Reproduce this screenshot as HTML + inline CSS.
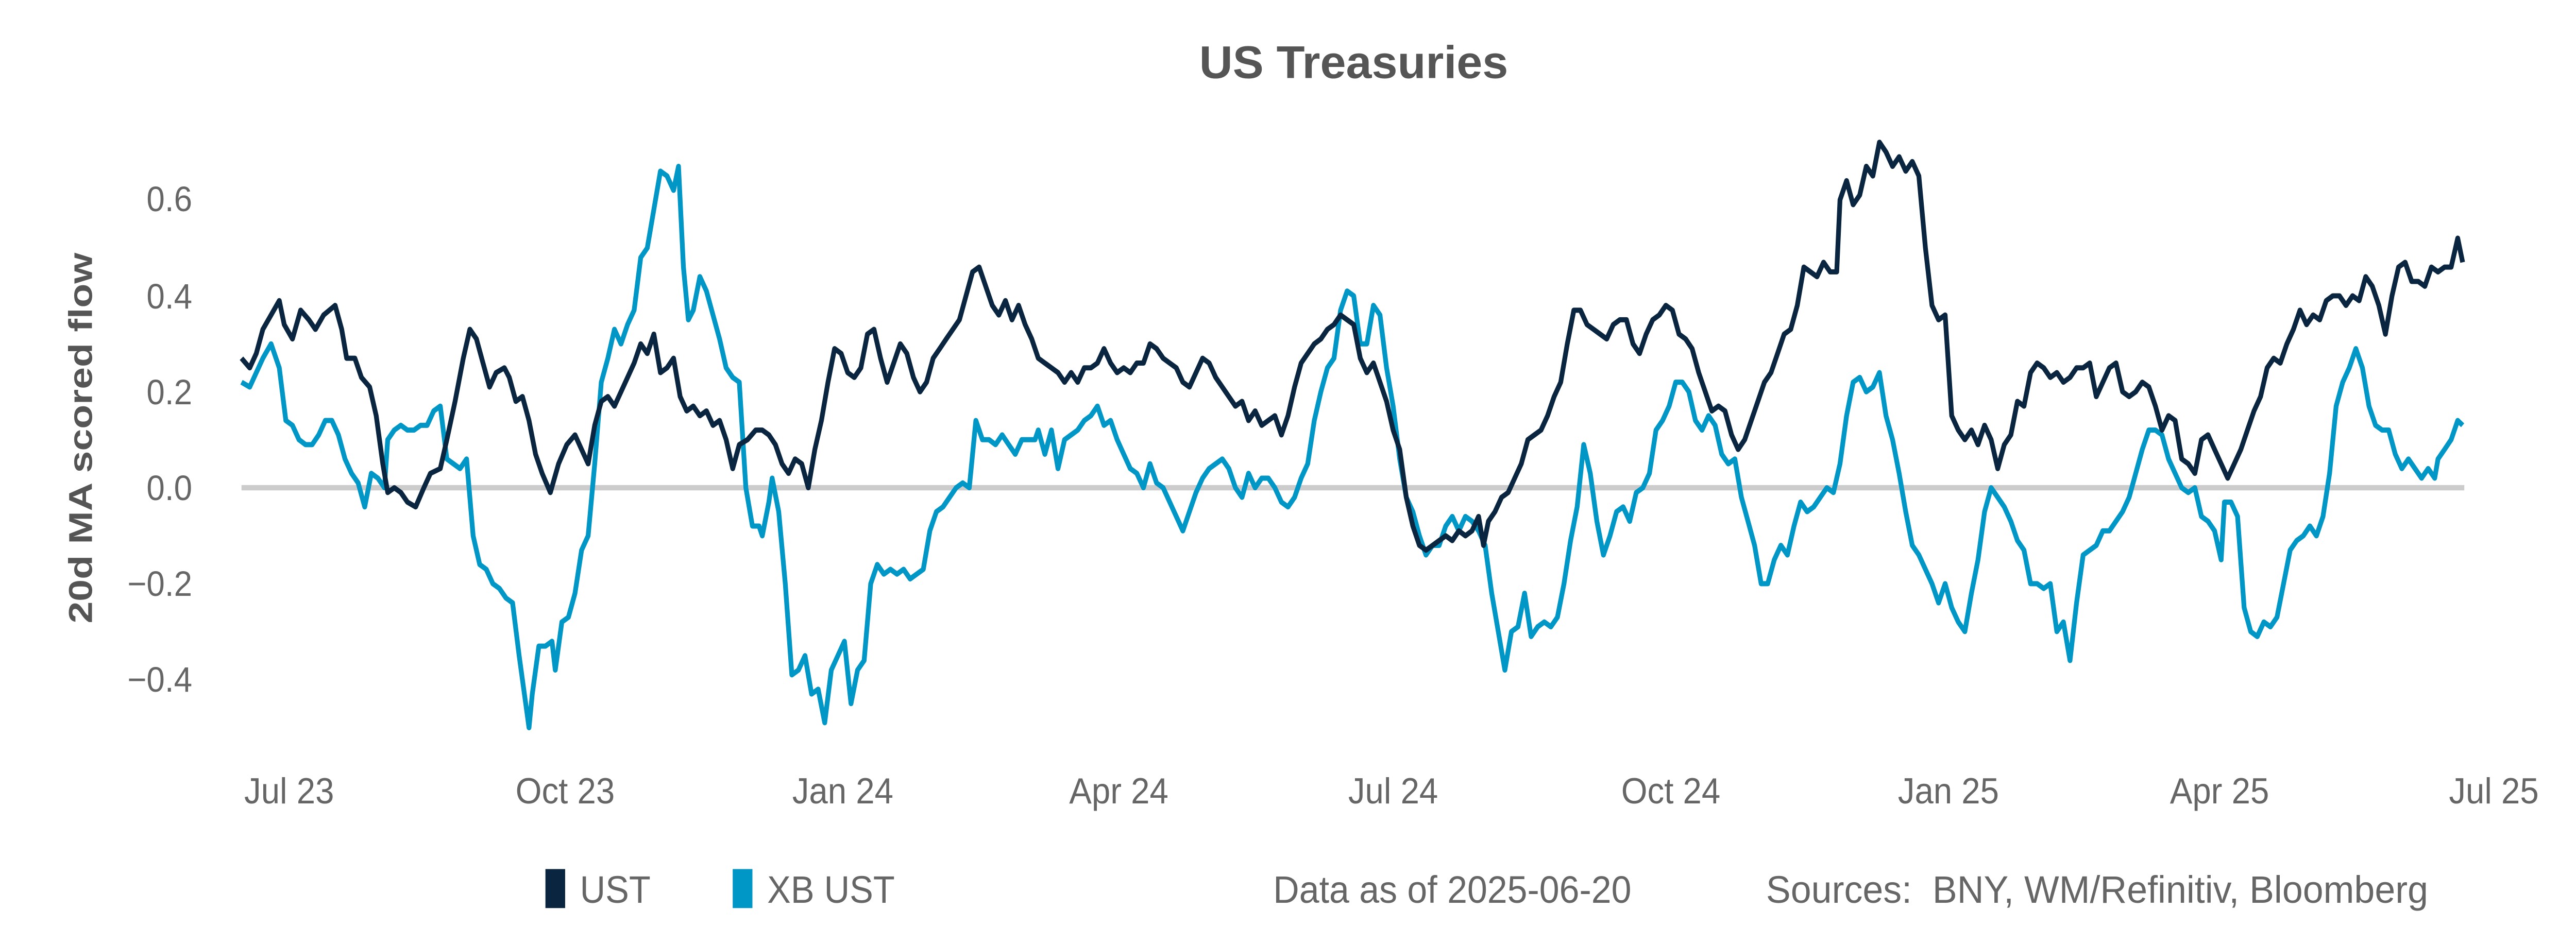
<!DOCTYPE html>
<html><head><meta charset="utf-8"><style>
html,body{margin:0;padding:0;background:#fff;width:100%;height:100%;overflow:hidden;}
svg{display:block;position:fixed;left:0;top:0;width:100vw;height:100vh;}
text{font-family:"Liberation Sans",sans-serif;}
</style></head><body>
<svg id="c" viewBox="0 0 1568 522.67" preserveAspectRatio="none" xmlns="http://www.w3.org/2000/svg">
<rect width="1568" height="522.67" fill="#fff"/>
<text x="730" y="44" font-size="26" font-weight="bold" fill="#555" textLength="188" lengthAdjust="spacingAndGlyphs">US Treasuries</text>
<text transform="translate(56,247) rotate(-90)" text-anchor="middle" font-size="20" font-weight="bold" fill="#555" textLength="209" lengthAdjust="spacingAndGlyphs">20d MA scored flow</text>
<g font-size="20" fill="#666" text-anchor="end">
<text x="117" y="119">0.6</text>
<text x="117" y="174">0.4</text>
<text x="117" y="228">0.2</text>
<text x="117" y="282">0.0</text>
<text x="117" y="336">−0.2</text>
<text x="117" y="390">−0.4</text>
</g>
<g font-size="20.5" fill="#666" text-anchor="middle">
<text x="176" y="453">Jul 23</text>
<text x="344" y="453">Oct 23</text>
<text x="513" y="453">Jan 24</text>
<text x="681" y="453">Apr 24</text>
<text x="848" y="453">Jul 24</text>
<text x="1017" y="453">Oct 24</text>
<text x="1186" y="453">Jan 25</text>
<text x="1351" y="453">Apr 25</text>
<text x="1518" y="453">Jul 25</text>
</g>
<line x1="147" y1="275" x2="1500" y2="275" stroke="#cccccc" stroke-width="3"/>
<polyline id="xb" fill="none" stroke="#0096c6" stroke-width="2.9" stroke-linejoin="round"/>
<polyline id="ust" fill="none" stroke="#0a2540" stroke-width="2.9" stroke-linejoin="round"/>
<rect x="332" y="490" width="12" height="22" fill="#0a2540"/>
<rect x="446" y="490" width="12" height="22" fill="#0096c6"/>
<g font-size="21.5" fill="#666">
<text x="353" y="509">UST</text>
<text x="467" y="509">XB UST</text>
<text x="775" y="509" textLength="218" lengthAdjust="spacingAndGlyphs">Data as of 2025-06-20</text>
<text x="1075" y="509" xml:space="preserve" textLength="403" lengthAdjust="spacingAndGlyphs">Sources:  BNY, WM/Refinitiv, Bloomberg</text>
</g>
</svg>
<script>
var ust=[147,0.27,152,0.25,156,0.28,160,0.33,165,0.36,170,0.39,173,0.34,178,0.31,183,0.37,188,0.35,192,0.33,197,0.36,204,0.38,208,0.33,211,0.27,216,0.27,220,0.23,225,0.21,229,0.15,233,0.05,236,-0.01,240,0.0,244,-0.01,248,-0.03,253,-0.04,258,0.0,262,0.03,268,0.04,272,0.1,277,0.18,282,0.27,286,0.33,290,0.31,294,0.26,298,0.21,302,0.24,307,0.25,310,0.23,314,0.18,318,0.19,322,0.14,326,0.07,330,0.03,335,-0.01,340,0.05,345,0.09,350,0.11,354,0.08,358,0.05,362,0.13,366,0.18,370,0.19,374,0.17,378,0.2,382,0.23,386,0.26,390,0.3,394,0.28,398,0.32,402,0.24,406,0.25,410,0.27,414,0.19,418,0.16,422,0.17,426,0.15,430,0.16,434,0.13,438,0.14,442,0.1,446,0.04,450,0.09,455,0.1,460,0.12,464,0.12,468,0.11,472,0.09,476,0.05,480,0.03,484,0.06,488,0.05,492,0.0,496,0.08,500,0.14,504,0.22,508,0.29,512,0.28,516,0.24,520,0.23,524,0.25,528,0.32,532,0.33,536,0.27,540,0.22,544,0.26,548,0.3,552,0.28,556,0.23,560,0.2,564,0.22,568,0.27,572,0.29,576,0.31,580,0.33,584,0.35,588,0.4,592,0.45,596,0.46,600,0.42,604,0.38,608,0.36,612,0.39,616,0.35,620,0.38,624,0.34,628,0.31,632,0.27,636,0.26,640,0.25,644,0.24,648,0.22,652,0.24,656,0.22,660,0.25,664,0.25,668,0.26,672,0.29,676,0.26,680,0.24,684,0.25,688,0.24,692,0.26,696,0.26,700,0.3,704,0.29,708,0.27,712,0.26,716,0.25,720,0.22,724,0.21,728,0.24,732,0.27,736,0.26,740,0.23,744,0.21,748,0.19,752,0.17,756,0.18,760,0.14,764,0.16,768,0.13,772,0.14,776,0.15,780,0.11,784,0.15,788,0.21,792,0.26,796,0.28,800,0.3,804,0.31,808,0.33,812,0.34,816,0.36,820,0.35,824,0.34,828,0.27,832,0.24,836,0.26,840,0.22,844,0.18,848,0.12,852,0.08,856,-0.02,860,-0.08,864,-0.12,868,-0.13,872,-0.12,876,-0.11,880,-0.1,884,-0.11,888,-0.09,892,-0.1,896,-0.09,900,-0.06,903,-0.12,906,-0.07,910,-0.05,914,-0.02,918,-0.01,922,0.02,926,0.05,930,0.1,934,0.11,938,0.12,942,0.15,946,0.19,950,0.22,954,0.3,958,0.37,962,0.37,966,0.34,970,0.33,974,0.32,978,0.31,982,0.34,986,0.35,990,0.35,994,0.3,998,0.28,1002,0.32,1006,0.35,1010,0.36,1014,0.38,1018,0.37,1022,0.32,1026,0.31,1030,0.29,1034,0.24,1038,0.2,1042,0.16,1046,0.17,1050,0.16,1054,0.11,1058,0.08,1062,0.1,1066,0.14,1070,0.18,1074,0.22,1078,0.24,1082,0.28,1086,0.32,1090,0.33,1094,0.38,1098,0.46,1102,0.45,1106,0.44,1110,0.47,1114,0.45,1118,0.45,1120,0.6,1124,0.64,1128,0.59,1132,0.61,1136,0.67,1140,0.65,1144,0.72,1148,0.7,1152,0.67,1156,0.69,1160,0.66,1164,0.68,1168,0.65,1172,0.5,1176,0.38,1180,0.35,1184,0.36,1188,0.15,1192,0.12,1196,0.1,1200,0.12,1204,0.09,1208,0.13,1212,0.1,1216,0.04,1220,0.09,1224,0.11,1228,0.18,1232,0.17,1236,0.24,1240,0.26,1244,0.25,1248,0.23,1252,0.24,1256,0.22,1260,0.23,1264,0.25,1268,0.25,1272,0.26,1276,0.19,1280,0.22,1284,0.25,1288,0.26,1292,0.2,1296,0.19,1300,0.2,1304,0.22,1308,0.21,1312,0.17,1316,0.12,1320,0.15,1324,0.14,1328,0.06,1332,0.05,1336,0.03,1340,0.1,1344,0.11,1348,0.08,1352,0.05,1356,0.02,1360,0.05,1364,0.08,1368,0.12,1372,0.16,1376,0.19,1380,0.25,1384,0.27,1388,0.26,1392,0.3,1396,0.33,1400,0.37,1404,0.34,1408,0.36,1412,0.35,1416,0.39,1420,0.4,1424,0.4,1428,0.38,1432,0.4,1436,0.39,1440,0.44,1444,0.42,1448,0.38,1452,0.32,1456,0.4,1460,0.46,1464,0.47,1468,0.43,1472,0.43,1476,0.42,1480,0.46,1484,0.45,1488,0.46,1492,0.46,1496,0.52,1499,0.47];
var xb=[147,0.22,152,0.21,156,0.24,160,0.27,165,0.3,170,0.25,174,0.14,178,0.13,182,0.1,186,0.09,190,0.09,194,0.11,198,0.14,202,0.14,206,0.11,210,0.06,214,0.03,218,0.01,222,-0.04,226,0.03,230,0.02,234,0.0,236,0.1,240,0.12,244,0.13,248,0.12,252,0.12,256,0.13,260,0.13,264,0.16,268,0.17,272,0.06,276,0.05,280,0.04,284,0.06,288,-0.1,292,-0.16,296,-0.17,300,-0.2,304,-0.21,308,-0.23,312,-0.24,316,-0.35,320,-0.45,322,-0.5,324,-0.43,328,-0.33,332,-0.33,336,-0.32,338,-0.38,342,-0.28,346,-0.27,350,-0.22,354,-0.13,358,-0.1,362,0.05,366,0.22,370,0.27,374,0.33,378,0.3,382,0.34,386,0.37,390,0.48,394,0.5,398,0.58,402,0.66,406,0.65,410,0.62,413,0.67,416,0.46,419,0.35,422,0.37,426,0.44,430,0.41,434,0.36,438,0.31,442,0.25,446,0.23,450,0.22,454,0.0,458,-0.08,462,-0.08,464,-0.1,468,-0.03,470,0.02,474,-0.05,478,-0.2,482,-0.39,486,-0.38,490,-0.35,494,-0.43,498,-0.42,502,-0.49,506,-0.38,510,-0.35,514,-0.32,518,-0.45,522,-0.38,526,-0.36,530,-0.2,534,-0.16,538,-0.18,542,-0.17,546,-0.18,550,-0.17,554,-0.19,558,-0.18,562,-0.17,566,-0.09,570,-0.05,574,-0.04,578,-0.02,582,0.0,586,0.01,590,0.0,594,0.14,598,0.1,602,0.1,606,0.09,610,0.11,614,0.09,618,0.07,622,0.1,626,0.1,630,0.1,632,0.12,636,0.07,640,0.12,644,0.04,648,0.1,652,0.11,656,0.12,660,0.14,664,0.15,668,0.17,672,0.13,676,0.14,680,0.1,684,0.07,688,0.04,692,0.03,696,0.0,700,0.05,704,0.01,708,0.0,712,-0.03,716,-0.06,720,-0.09,724,-0.05,728,-0.01,732,0.02,736,0.04,740,0.05,744,0.06,748,0.04,752,0.0,756,-0.02,760,0.03,764,0.0,768,0.02,772,0.02,776,0.0,780,-0.03,784,-0.04,788,-0.02,792,0.02,796,0.05,800,0.14,804,0.2,808,0.25,812,0.27,816,0.37,820,0.41,824,0.4,828,0.3,832,0.3,836,0.38,840,0.36,844,0.25,848,0.17,852,0.06,856,-0.02,860,-0.05,864,-0.1,868,-0.14,872,-0.12,876,-0.12,880,-0.08,884,-0.06,888,-0.09,892,-0.06,896,-0.07,900,-0.09,904,-0.12,908,-0.22,912,-0.3,916,-0.38,920,-0.3,924,-0.29,928,-0.22,932,-0.31,936,-0.29,940,-0.28,944,-0.29,948,-0.27,952,-0.2,956,-0.11,960,-0.04,964,0.09,968,0.03,972,-0.07,976,-0.14,980,-0.1,984,-0.05,988,-0.04,992,-0.07,996,-0.01,1000,0.0,1004,0.03,1008,0.12,1012,0.14,1016,0.17,1020,0.22,1024,0.22,1028,0.2,1032,0.14,1036,0.12,1040,0.15,1044,0.13,1048,0.07,1052,0.05,1056,0.06,1060,-0.02,1064,-0.07,1068,-0.12,1072,-0.2,1076,-0.2,1080,-0.15,1084,-0.12,1088,-0.14,1092,-0.08,1096,-0.03,1100,-0.05,1104,-0.04,1108,-0.02,1112,0.0,1116,-0.01,1120,0.05,1124,0.15,1128,0.22,1132,0.23,1136,0.2,1140,0.21,1144,0.24,1148,0.15,1152,0.1,1156,0.03,1160,-0.05,1164,-0.12,1168,-0.14,1172,-0.17,1176,-0.2,1180,-0.24,1184,-0.2,1188,-0.25,1192,-0.28,1196,-0.3,1200,-0.22,1204,-0.15,1208,-0.05,1212,0.0,1216,-0.02,1220,-0.04,1224,-0.07,1228,-0.11,1232,-0.13,1236,-0.2,1240,-0.2,1244,-0.21,1248,-0.2,1252,-0.3,1256,-0.28,1260,-0.36,1264,-0.24,1268,-0.14,1272,-0.13,1276,-0.12,1280,-0.09,1284,-0.09,1288,-0.07,1292,-0.05,1296,-0.02,1300,0.03,1304,0.08,1308,0.12,1312,0.12,1316,0.11,1320,0.06,1324,0.03,1328,0.0,1332,-0.01,1336,0.0,1340,-0.06,1344,-0.07,1348,-0.09,1352,-0.15,1354,-0.03,1358,-0.03,1362,-0.06,1366,-0.25,1370,-0.3,1374,-0.31,1378,-0.28,1382,-0.29,1386,-0.27,1390,-0.2,1394,-0.13,1398,-0.11,1402,-0.1,1406,-0.08,1410,-0.1,1414,-0.06,1418,0.03,1422,0.17,1426,0.22,1430,0.25,1434,0.29,1438,0.25,1442,0.17,1446,0.13,1450,0.12,1454,0.12,1458,0.07,1462,0.04,1466,0.06,1470,0.04,1474,0.02,1478,0.04,1482,0.02,1484,0.06,1488,0.08,1492,0.1,1496,0.14,1499,0.13];
function pts(a){var s=[];for(var i=0;i<a.length;i+=2){s.push(a[i]+","+(275-a[i+1]*270.5).toFixed(1));}return s.join(" ");}
document.getElementById("ust").setAttribute("points",pts(ust));
document.getElementById("xb").setAttribute("points",pts(xb));
</script>
</body></html>
